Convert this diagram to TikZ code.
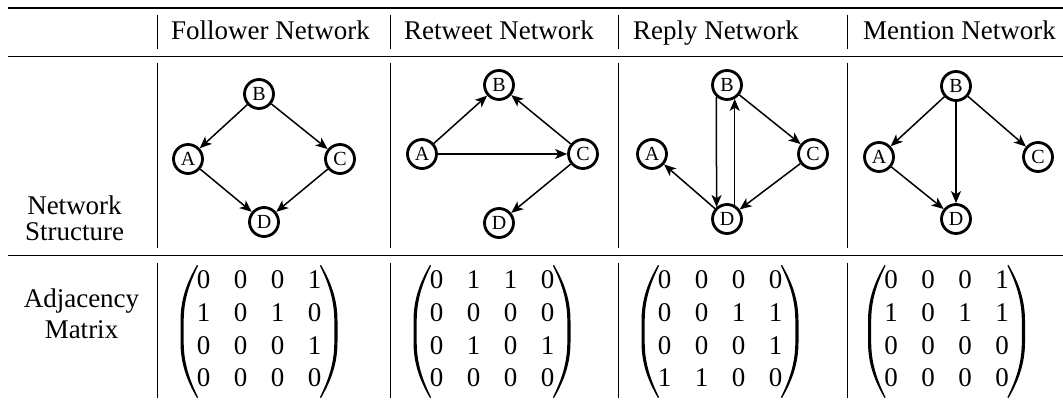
\documentclass[tikz,border=0pt]{standalone}
\usepackage{fontspec}
\setmainfont{Liberation Serif}
\usetikzlibrary{arrows.meta}

% one row of an adjacency matrix: prefix, centre x, baseline y, four entries
\newcommand\adjrow[7]{%
  \node[digit] (#1-1) at ({#2-55.5},#3) {#4};
  \node[digit] (#1-2) at ({#2-18.5},#3) {#5};
  \node[digit] (#1-3) at ({#2+18.5},#3) {#6};
  \node[digit] (#1-4) at ({#2+55.5},#3) {#7};
}
% large parenthesis: outer x, side (1 = left, -1 = right)
\newcommand\bigparen[2]{%
  \pgfmathsetmacro\parx{#1}%
  \pgfmathsetmacro\pars{#2}%
  \fill ({\parx+\pars*16.5},265) .. controls ({\parx+\pars*6},283) and (\parx,300) .. (\parx,321)
    -- (\parx,342) .. controls (\parx,363) and ({\parx+\pars*6},380) .. ({\parx+\pars*16.5},398)
    -- ({\parx+\pars*17.6},397.3) .. controls ({\parx+\pars*9},380) and ({\parx+\pars*3.2},363) .. ({\parx+\pars*3.2},342)
    -- ({\parx+\pars*3.2},321) .. controls ({\parx+\pars*3.2},300) and ({\parx+\pars*9},283) .. ({\parx+\pars*17.6},265.7)
    -- cycle;
}
% complete matrix: prefix, centre x, four rows of four entries each given as {a}{b}{c}{d}
\newcommand\adjmatrix[6]{%
  \adjrow{#1-1}{#2}{289}#3
  \adjrow{#1-2}{#2}{321.5}#4
  \adjrow{#1-3}{#2}{354}#5
  \adjrow{#1-4}{#2}{386.5}#6
  \bigparen{#2-78.5}{1}
  \bigparen{#2+78.5}{-1}
}

\begin{document}
\begin{tikzpicture}[x=1pt,y=-1pt,
  vert/.style={draw, circle, line width=2.8pt, minimum size=29pt, inner sep=0pt,
    font=\fontsize{20}{22}\selectfont},
  link/.style={line width=1.5pt, -{Stealth[length=12pt,width=10pt,inset=3.2pt]}},
  txt/.style={anchor=base, inner sep=0pt, font=\fontsize{27}{30}\selectfont},
  head/.style={anchor=base west, inner sep=0pt, font=\fontsize{27}{30}\selectfont},
  digit/.style={anchor=base, inner sep=0pt, font=\fontsize{27}{30}\selectfont},
  sep/.style={line width=1pt},
]
\useasboundingbox (0,0) rectangle (1063,403);

% horizontal rules
\draw[line width=2pt] (8,8) -- (1063,8);
\draw[line width=1.3pt] (8,56.5) -- (1063,56.5);
\draw[line width=1.1pt] (8,255.5) -- (1063,255.5);

% column separators
\foreach \x in {157,390,618,847} {
  \draw[sep] (\x,15) -- (\x,49);
  \draw[sep] (\x,63) -- (\x,248);
  \draw[sep] (\x,263) -- (\x,398);
}

% header
\node[head] (h1) at (171,40) {Follower Network};
\node[head] (h2) at (404,40) {Retweet Network};
\node[head] (h3) at (633,40) {Reply Network};
\node[head] (h4) at (863,40) {Mention Network};

% row labels
\node[txt] (r1a) at (74.5,215) {Network};
\node[txt] (r1b) at (74.5,240.5) {Structure};
\node[txt] (r2a) at (81.5,308) {Adjacency};
\node[txt] (r2b) at (81.5,338) {Matrix};

% follower network
\node[vert] (fB) at (259,94) {B};
\node[vert] (fA) at (188,159) {A};
\node[vert] (fC) at (340,159) {C};
\node[vert] (fD) at (264,222) {D};
\draw[link] (fB) -- (fA);
\draw[link] (fB) -- (fC);
\draw[link] (fA) -- (fD);
\draw[link] (fC) -- (fD);

% retweet network
\node[vert] (tB) at (499,85) {B};
\node[vert] (tA) at (422,154) {A};
\node[vert] (tC) at (583,154) {C};
\node[vert] (tD) at (499,223) {D};
\draw[link] (tA) -- (tB);
\draw[link] (tC) -- (tB);
\draw[link] (tA) -- (tC);
\draw[link] (tC) -- (tD);

% reply network
\node[vert] (pB) at (727,85) {B};
\node[vert] (pA) at (652,154) {A};
\node[vert] (pC) at (813,154) {C};
\node[vert] (pD) at (727,219) {D};
\draw[link] (pB.228.7) -- (pD.131.3);
\draw[link] (pD.61) -- (pB.-61);
\draw[link] (pB) -- (pC);
\draw[link] (pC) -- (pD);
\draw[link] (pD) -- (pA);

% mention network
\node[vert] (mB) at (956,86) {B};
\node[vert] (mA) at (879,157) {A};
\node[vert] (mC) at (1038,157) {C};
\node[vert] (mD) at (956,219) {D};
\draw[link] (mB) -- (mA);
\draw[link] (mB) -- (mC);
\draw[link] (mB) -- (mD);
\draw[link] (mA) -- (mD);

% adjacency matrices
\adjmatrix{fm}{259}{{0}{0}{0}{1}}{{1}{0}{1}{0}}{{0}{0}{0}{1}}{{0}{0}{0}{0}}
\adjmatrix{tm}{492}{{0}{1}{1}{0}}{{0}{0}{0}{0}}{{0}{1}{0}{1}}{{0}{0}{0}{0}}
\adjmatrix{pm}{720}{{0}{0}{0}{0}}{{0}{0}{1}{1}}{{0}{0}{0}{1}}{{1}{1}{0}{0}}
\adjmatrix{mm}{946.5}{{0}{0}{0}{1}}{{1}{0}{1}{1}}{{0}{0}{0}{0}}{{0}{0}{0}{0}}
\end{tikzpicture}
\end{document}
